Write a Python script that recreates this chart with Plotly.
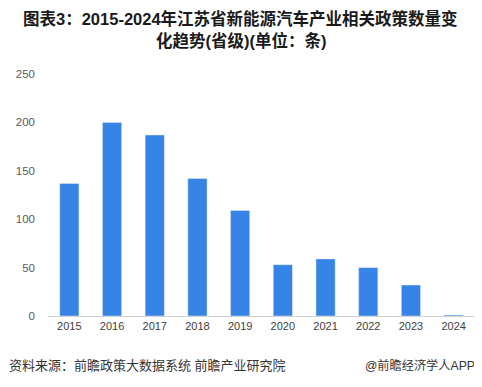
import plotly.graph_objects as go

years = ["2015", "2016", "2017", "2018", "2019", "2020", "2021", "2022", "2023", "2024"]
counts = [137, 200, 187, 142, 109, 53, 59, 50, 32, 1]
y_ticks = [0, 50, 100, 150, 200, 250]

title_line1 = "图表3：2015-2024年江苏省新能源汽车产业相关政策数量变"
title_line2 = "化趋势(省级)(单位：条)"
source_text = "资料来源：前瞻政策大数据系统 前瞻产业研究院"
brand_text = "@前瞻经济学人APP"

font_family = "Liberation Sans, Noto Sans CJK SC, sans-serif"

fig = go.Figure(go.Bar(
    x=years, y=counts, marker_color="#3584E6", width=0.45,
))

title_font = dict(family=font_family, size=16.5, color="#1a1a1a")
foot_font = dict(family=font_family, size=13, color="#333333")
brand_font = dict(family=font_family, size=12.2, color="#333333")

# the page body has an 8px default margin, so the figure is sized 8px smaller
fig.update_layout(
    width=474, height=379,
    margin=dict(l=40, r=7, t=66, b=71),
    paper_bgcolor="white", plot_bgcolor="white",
    font=dict(family=font_family, size=11, color="#595959"),
    showlegend=False,
    xaxis=dict(showline=True, linecolor="#d0d0d0", linewidth=1, ticks="",
               tickfont=dict(size=11, color="#404040"), showgrid=False, automargin=False),
    yaxis=dict(range=[0, 250], tickvals=y_ticks, showgrid=False, zeroline=False,
               showline=False, ticks="", tickfont=dict(size=11.5, color="#595959"),
               ticklabelstandoff=12, automargin=False),
    annotations=[
        dict(text="<b>" + title_line1 + "</b>", xref="paper", yref="paper", x=0.5, y=1,
             xshift=-21, yshift=56, xanchor="center", yanchor="middle", showarrow=False, font=title_font),
        dict(text="<b>" + title_line2 + "</b>", xref="paper", yref="paper", x=0.5, y=1,
             xshift=-21, yshift=34, xanchor="center", yanchor="middle", showarrow=False, font=title_font),
        dict(text=source_text, xref="paper", yref="paper", x=0, y=0, xshift=-41, yshift=-49,
             xanchor="left", yanchor="middle", showarrow=False, font=foot_font),
        dict(text=brand_text, xref="paper", yref="paper", x=1, y=0, xshift=2, yshift=-49,
             xanchor="right", yanchor="middle", showarrow=False, font=brand_font),
    ],
)

fig.write_html("out.html")
